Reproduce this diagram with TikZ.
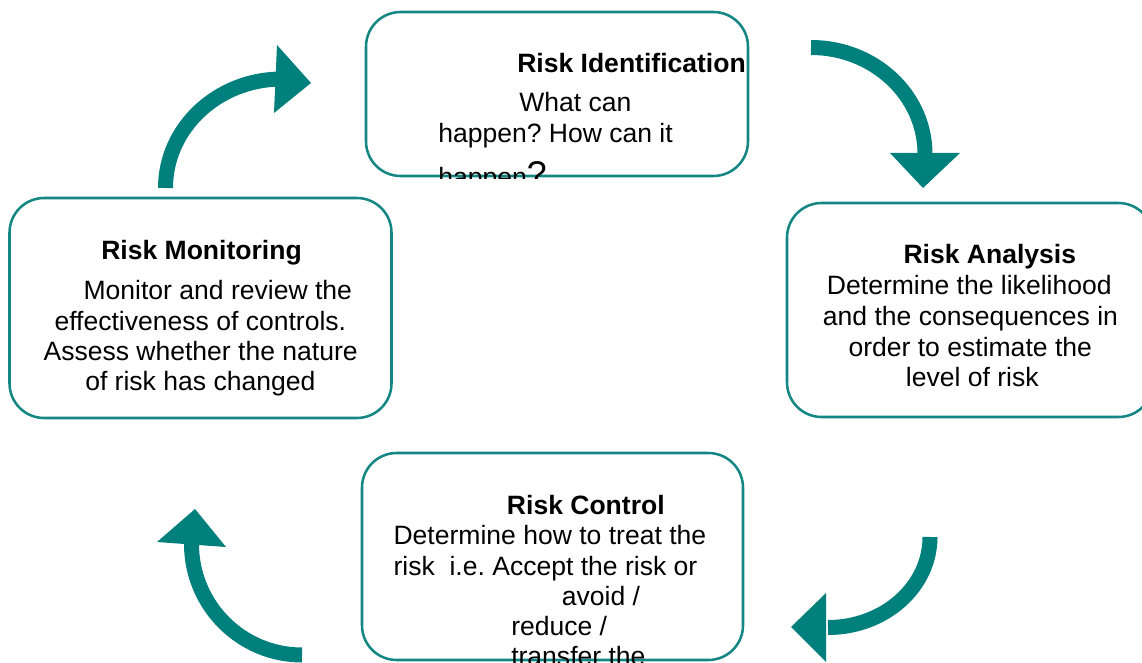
\documentclass[tikz,border=0pt]{standalone}
\usepackage{fontspec}
\setmainfont{Liberation Sans}
\usepackage{tikz}
\frenchspacing
\definecolor{boxline}{RGB}{20,134,132}
\definecolor{arrowfill}{RGB}{0,128,124}

\begin{document}
\begin{tikzpicture}[x=0.75pt,y=-0.75pt,
	box/.style={draw=boxline, line width=1.9pt, rounded corners=26pt, inner sep=0pt},
	txt/.style={inner sep=0pt, anchor=base west, font=\fontsize{19.9pt}{23pt}\selectfont},
	hd/.style={txt, font=\fontsize{19.9pt}{23pt}\selectfont\bfseries},
	band/.style={draw=arrowfill, line width=11.25pt},
	head/.style={fill=arrowfill}]
	\useasboundingbox (0,0) rectangle (1142,663);

	% the four steps
	\node[box, minimum width=286.5pt, minimum height=123pt] (ident) at (557,94) {};
	\node[box, minimum width=274.5pt, minimum height=160.5pt] (anal) at (970,310) {};
	\node[box, minimum width=285.75pt, minimum height=155.25pt] (ctrl) at (552.5,556.5) {};
	\node[box, minimum width=286.5pt, minimum height=165pt] (mon) at (200.5,308) {};

	% Risk Identification
	\node[hd] (ident-h) at (517,72.7) {Risk Identification};
	\node[txt] (ident-1) at (519,111.7) {What can};
	\node[txt] (ident-2) at (438,142.7) {happen? How can it};
	\begin{scope}
		\clip (366,0) rectangle (760,178.5);
		\node[txt] (ident-3) at (438,186) {happen{\fontsize{26.8pt}{30pt}\selectfont ?}};
	\end{scope}

	% Risk Analysis
	\node[hd] (anal-h) at (903.3,263.3) {Risk Analysis};
	\node[txt] (anal-1) at (826.7,294) {Determine the likelihood};
	\node[txt] (anal-2) at (822.7,325) {and the consequences in};
	\node[txt] (anal-3) at (848.3,356.7) {order to estimate the};
	\node[txt] (anal-4) at (905.7,386.7) {level of risk};

	% Risk Control
	\node[hd] (ctrl-h) at (506.7,514) {Risk Control};
	\node[txt] (ctrl-1) at (393.3,544) {Determine how to treat the};
	\node[txt] (ctrl-2) at (393.3,575) {risk\ \ i.e. Accept the risk or};
	\node[txt] (ctrl-3) at (561.7,605.7) {avoid /};
	\node[txt] (ctrl-4) at (511,635) {reduce /};
	\node[txt] (ctrl-5) at (511,665) {transfer the};

	% Risk Monitoring
	\node[hd] (mon-h) at (101,259.3) {Risk Monitoring};
	\node[txt] (mon-1) at (83.3,299.3) {Monitor and review the};
	\node[txt] (mon-2) at (54.3,330) {effectiveness of controls.};
	\node[txt] (mon-3) at (43.3,360) {Assess whether the nature};
	\node[txt] (mon-4) at (85,390) {of risk has changed};

	% curved arrows
	\draw[band] (165.5,188) arc[start angle=180, end angle=270, x radius=116.5, y radius=109];
	\fill[head] (277,45) -- (311,83) -- (274,113) -- cycle;

	\draw[band] (811,47.5) arc[start angle=270, end angle=360, x radius=114, y radius=106.5];
	\fill[head] (890,153) -- (960,153) -- (923,188) -- cycle;

	\draw[band] (930,537) arc[start angle=0, end angle=90, x radius=102, y radius=90.5];
	\fill[head] (826,593) -- (791,627) -- (826,662) -- cycle;

	\draw[band] (302,655) arc[start angle=90, end angle=180, x radius=110.5, y radius=111];
	\fill[head] (157,542) -- (195,509) -- (226,547) -- cycle;
\end{tikzpicture}
\end{document}
